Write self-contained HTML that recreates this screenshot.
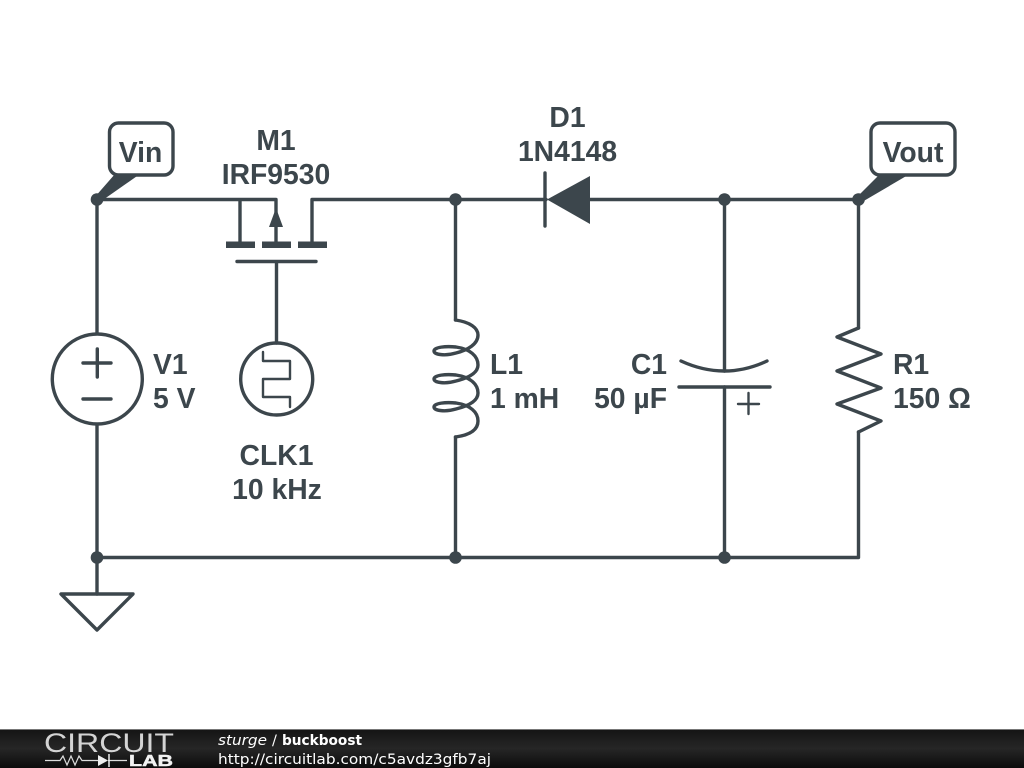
<!DOCTYPE html>
<html>
<head>
<meta charset="utf-8">
<style>
html,body{margin:0;padding:0;background:#fff;width:1024px;height:768px;overflow:hidden}
svg{display:block}
.t{font-family:"Liberation Sans",Arial,sans-serif;font-weight:700;font-size:28.3px;fill:#3c464c}
.f{font-family:"DejaVu Sans",sans-serif;font-size:14.5px;fill:#fff}
</style>
</head>
<body>
<svg width="1024" height="768" viewBox="0 0 1024 768" xmlns="http://www.w3.org/2000/svg">
<defs>
<linearGradient id="g" x1="0" y1="0" x2="0" y2="1">
<stop offset="0" stop-color="#141414"/>
<stop offset="0.5" stop-color="#262626"/>
<stop offset="1" stop-color="#0c0c0c"/>
</linearGradient>
</defs>
<g fill="none" stroke="#3c464c" stroke-width="3.4" stroke-linecap="round" stroke-linejoin="round">
<!-- wires -->
<path d="M97 199.5H276V244M240 199.5V244M312 244V199.5H546M590 199.5H858.5V328"/>
<path d="M97 199.5V333M97 425V594M97 557.5H858.5V432"/>
<path d="M276.5 262V343"/>
<path d="M455.5 199.5V320M455.5 437V557.5"/>
<path d="M724.5 199.5V371M724.5 387V557.5"/>
<!-- ground -->
<path d="M61 594H133L97 630Z"/>
<!-- V1 -->
<circle cx="97.3" cy="379" r="45"/>
<path d="M83 363H111M97.3 349V377M83 399H111"/>
<!-- CLK1 -->
<circle cx="276.7" cy="379" r="36"/>
<path stroke-width="2.4" d="M263 352V361H290V379H263V397H290V407"/>
<!-- MOSFET -->
<path d="M237 261.5H316"/>
<!-- inductor -->
<path d="M455.5 320C470 322 478 328 478 335C478 344 468 350 456 353C446 356 434 355 434 351C434 347 446 346 456 347C470 349 478 356 478 365C478 373 468 378 456 381C446 384 434 383 434 379C434 375 446 374 456 375C470 377 478 384 478 393C478 401 468 406 456 409C446 412 434 411 434 407C434 403 446 402 456 403C470 405 478 412 478 421C478 430 470 435 455.5 437"/>
<!-- capacitor -->
<path d="M681 361Q724.5 381 767 361"/>
<path d="M679 387H770"/>
<path stroke-width="2.4" d="M738 404H759M748.5 393V414"/>
<!-- resistor -->
<path d="M858.5 328L837 337L881 354L837 371L881 388L837 404L881 421L858.5 432"/>
<!-- diode -->
<path d="M545 173V226"/>
<!-- label boxes -->
<rect x="109.500" y="123" width="63.500" height="52" rx="9" fill="#fff"/>
<rect x="871" y="123" width="84" height="52" rx="9" fill="#fff"/>
</g>
<g fill="#3c464c">
<rect x="226" y="241.500" width="29" height="6.500"/>
<rect x="262" y="241.500" width="29" height="6.500"/>
<rect x="298" y="241.500" width="29" height="6.500"/>
<path d="M276 208L283 227H269Z"/>
<path d="M547 199.500L590 176V224Z"/>
<path d="M94 198L115 174H140L100 202Z"/>
<path d="M856 198L879 175H908L862 202Z"/>
<circle cx="97" cy="199.500" r="6.300"/>
<circle cx="455.500" cy="199.500" r="6.300"/>
<circle cx="724.500" cy="199.500" r="6.300"/>
<circle cx="858.500" cy="199.500" r="6.300"/>
<circle cx="97" cy="557.500" r="6.300"/>
<circle cx="455.500" cy="557.500" r="6.300"/>
<circle cx="724.500" cy="557.500" r="6.300"/>
</g>
<text class="t" x="140.500" y="162" text-anchor="middle">Vin</text>
<text class="t" x="913" y="162" text-anchor="middle">Vout</text>
<text class="t" x="276" y="150" text-anchor="middle">M1</text>
<text class="t" x="276" y="184" text-anchor="middle">IRF9530</text>
<text class="t" x="567.500" y="127" text-anchor="middle">D1</text>
<text class="t" x="567.500" y="161" text-anchor="middle">1N4148</text>
<text class="t" x="153" y="374">V1</text>
<text class="t" x="153" y="408">5 V</text>
<text class="t" x="276.500" y="465" text-anchor="middle">CLK1</text>
<text class="t" x="277" y="499" text-anchor="middle">10 kHz</text>
<text class="t" x="490" y="374">L1</text>
<text class="t" x="490" y="408">1 mH</text>
<text class="t" x="667" y="374" text-anchor="end">C1</text>
<text class="t" x="667" y="408" text-anchor="end">50 µF</text>
<text class="t" x="893" y="374">R1</text>
<text class="t" x="893" y="408">150 Ω</text>
<!-- footer -->
<rect x="0" y="729" width="1024" height="39" fill="url(#g)"/>
<rect x="0" y="729" width="1024" height="1" fill="#777"/>
<text x="44" y="752" font-family="'Liberation Sans',sans-serif" font-size="27" fill="#d4d4d4" textLength="130" lengthAdjust="spacingAndGlyphs">CIRCUIT</text>
<path d="M45 760.500H60L63 756L67 765L71 756L75 765L79 756L82 760.500H98M108 760.500H127" fill="none" stroke="#ddd" stroke-width="1.200"/>
<path d="M98 755V766L108 760.500Z" fill="#eee"/>
<path d="M109 754V767" stroke="#eee" stroke-width="1.500"/>
<text x="129" y="766" font-family="'Liberation Sans',sans-serif" font-weight="700" font-size="15.500" fill="#f2f2f2" stroke="#f2f2f2" stroke-width="0.500" textLength="44" lengthAdjust="spacingAndGlyphs">LAB</text>
<text class="f" x="218" y="745" font-style="italic" textLength="49" lengthAdjust="spacingAndGlyphs">sturge</text>
<text class="f" x="272" y="745">/</text>
<text class="f" x="282" y="745" font-weight="700" textLength="80" lengthAdjust="spacingAndGlyphs">buckboost</text>
<text class="f" x="218" y="764" textLength="273" lengthAdjust="spacingAndGlyphs">http://circuitlab.com/c5avdz3gfb7aj</text>
</svg>
</body>
</html>
